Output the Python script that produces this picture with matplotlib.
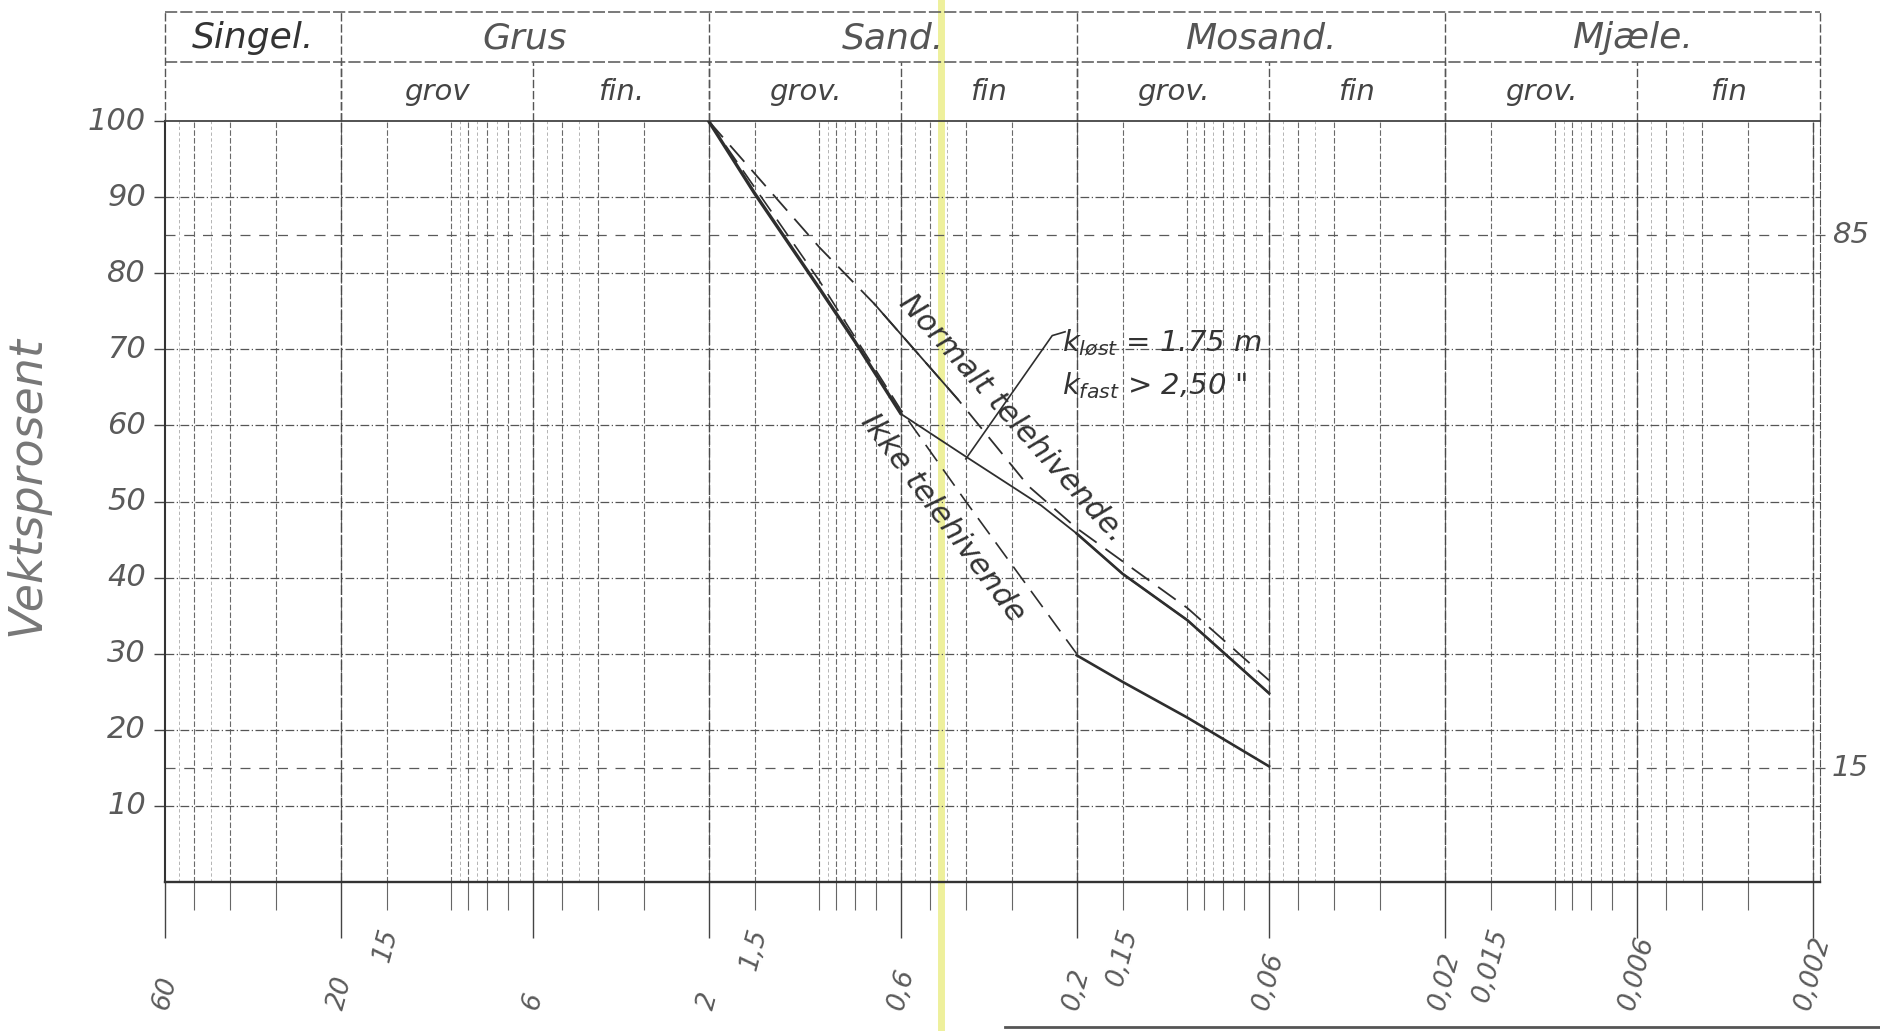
import numpy as np
import matplotlib.pyplot as plt
from matplotlib.lines import Line2D
from matplotlib.ticker import FixedLocator, NullFormatter
from matplotlib.transforms import blended_transform_factory

plt.rcParams['font.family'] = ['DejaVu Sans']
plt.rcParams['mathtext.fontset'] = 'dejavusans'

# --- values: grain size (mm) vs weight percent ---
# upper boundary, "Normalt telehivende"
normal_d = [2, 1.0, 0.71, 0.42, 0.27, 0.2, 0.1, 0.06]
normal_p = [100, 83.4, 76.0, 63.4, 52.0, 46.5, 36.0, 26.5]

# thick solid, coarse part of the lower boundary
ikke_d = [2, 1.5, 1.0, 0.8, 0.6]
ikke_p = [100, 90.5, 78.0, 71.0, 61.5]

# dashed lower boundary, "Ikke telehivende"
ikke_dash_d = [2, 1.0, 0.6, 0.4, 0.2]
ikke_dash_p = [100, 79.0, 62.0, 50.0, 30.0]

# solid tail of the lower boundary
fine_d = [0.2, 0.15, 0.1, 0.06]
fine_p = [29.8, 26.3, 21.6, 15.2]

# thin line from the knee (k-values)
k_d = [0.6, 0.4, 0.25, 0.2, 0.15, 0.1, 0.06]
k_p = [61.5, 55.9, 49.5, 45.8, 40.5, 34.4, 24.8]

leader_d = [0.4, 0.233, 0.215]
leader_p = [55.6, 71.8, 72.3]

major_d = [60, 20, 6, 2, 0.6, 0.2, 0.06, 0.02, 0.006, 0.002]
major_lbl = ['60', '20', '6', '2', '0,6', '0,2', '0,06', '0,02', '0,006', '0,002']
extra_d = [15, 1.5, 0.15, 0.015]
extra_lbl = ['15', '1,5', '0,15', '0,015']

pct_ticks = [10, 20, 30, 40, 50, 60, 70, 80, 90, 100]
pct_extra = [15, 85]

main_edges = [60, 20, 2, 0.2, 0.02]
main_names = ['Singel.', 'Grus', 'Sand.', 'Mosand.', 'Mjæle.']
sub_edges = [20, 6, 2, 0.6, 0.2, 0.06, 0.02, 0.006]
sub_names = ['grov', 'fin.', 'grov.', 'fin', 'grov.', 'fin', 'grov.', 'fin']

# log paper rulings
grid_k = [1, 1.5, 2, 3, 4, 5, 6, 7, 8, 9]
fine_k = [4.5, 5.5, 6.5, 7.5, 8.5, 9.5]
decades = [10, 1, 0.1, 0.01, 0.001]

X_MAX, X_MIN = 60, 0.00191

fig = plt.figure(figsize=(18.8, 10.31), dpi=100)
ax = fig.add_axes([165/1880, 1 - 882/1031, 1655/1880, 761/1031])
ax.set_facecolor('none')
ax.set_xscale('log')

# highlighter stroke across the scan
fig.add_artist(Line2D([941/1880, 941/1880], [0, 1], transform=fig.transFigure,
                      color='#eef09c', lw=5, zorder=-1))
fig.add_artist(Line2D([1005/1880, 1], [0.004, 0.004], transform=fig.transFigure,
                      color='#555555', lw=2))

# grid
minor_pos = []
for dec in decades:
    for k in grid_k:
        v = k * dec
        if X_MIN < v < X_MAX:
            ax.axvline(v, color='#6a6a6a', lw=0.8, dashes=(5, 2), zorder=1)
            minor_pos.append(v)
    for k in fine_k:
        v = k * dec
        if X_MIN < v < X_MAX:
            ax.axvline(v, color='#a8a8a8', lw=0.6, dashes=(4, 3), zorder=1)
for v in major_d[1:]:
    ax.axvline(v, color='#4a4a4a', lw=1.0, dashes=(7, 2), zorder=1)

for p in pct_ticks[:-1]:
    ax.axhline(p, color='#555555', lw=0.9, dashes=(7, 2, 1, 2), zorder=1)
yx = blended_transform_factory(ax.transAxes, ax.transData)
for p in pct_extra:
    ax.plot([0, 1.005], [p, p], transform=yx, color='#5a5a5a', lw=0.9,
            dashes=(8, 7), clip_on=False, zorder=1)

# curves
ink = '#2e2e2e'
ax.plot(ikke_d, ikke_p, color=ink, lw=2.4, solid_capstyle='round', zorder=3)
ax.plot(ikke_dash_d, ikke_dash_p, color=ink, lw=1.2, dashes=(12, 6), zorder=3)
ax.plot(fine_d, fine_p, color=ink, lw=1.9, zorder=3)
ax.plot(k_d, k_p, color=ink, lw=1.3, zorder=3)
ax.plot(k_d[3:], k_p[3:], color=ink, lw=1.9, zorder=3)
ax.plot(normal_d, normal_p, color=ink, lw=1.3, dashes=(12, 6), zorder=3)
ax.plot(normal_d[2:4], normal_p[2:4], color=ink, lw=1.3, zorder=3)
ax.plot(leader_d, leader_p, color=ink, lw=1.2, zorder=3)

ax.text(0.30, 60.9, 'Normalt telehivende.', rotation=-48, rotation_mode='anchor',
        ha='center', va='center', fontsize=22, style='italic', color='#333333')
ax.text(0.463, 47.8, 'Ikke telehivende', rotation=-53, rotation_mode='anchor',
        ha='center', va='center', fontsize=22, style='italic', color='#333333')
ax.text(0.219, 70.8, r'$k_{løst}$ = 1.75 m', ha='left', va='center',
        fontsize=21, style='italic', color='#333333')
ax.text(0.219, 65.2, r'$k_{fast}$ > 2,50 "', ha='left', va='center',
        fontsize=21, style='italic', color='#333333')

ax.set_xlim(X_MAX, X_MIN)
ax.set_ylim(0, 100)

# spines
ax.spines['left'].set_color('#333333')
ax.spines['left'].set_linewidth(1.5)
ax.spines['bottom'].set_color('#333333')
ax.spines['bottom'].set_linewidth(1.7)
ax.spines['top'].set_color('#444444')
ax.spines['top'].set_linewidth(1.3)
ax.spines['right'].set_color('#555555')
ax.spines['right'].set_linestyle((0, (6, 2)))

# ticks
ax.set_xticks(major_d)
ax.xaxis.set_minor_locator(FixedLocator(minor_pos))
ax.xaxis.set_major_formatter(NullFormatter())
ax.xaxis.set_minor_formatter(NullFormatter())
ax.tick_params(axis='x', which='major', length=40, width=1.0, color='#444444', direction='out')
ax.tick_params(axis='x', which='minor', length=20, width=0.8, color='#666666', direction='out')
ax.set_yticks(pct_ticks)
ax.yaxis.set_major_formatter(NullFormatter())
ax.tick_params(axis='y', length=8, width=1.0, color='#444444', direction='out')

lbl_col = '#5a5a5a'
for p in pct_ticks:
    ax.text(-0.0115, p, str(p), transform=yx, ha='right', va='center',
            fontsize=22, style='italic', color=lbl_col)
for p in pct_extra:
    ax.text(1.007, p, str(p), transform=yx, ha='left', va='center',
            fontsize=21, style='italic', color=lbl_col)

xy = blended_transform_factory(ax.transData, ax.transAxes)
for d, lbl in zip(major_d, major_lbl):
    ax.text(d, -0.172, lbl, transform=xy, rotation=75, ha='center', va='bottom',
            fontsize=19, style='italic', color=lbl_col)
for d, lbl in zip(extra_d, extra_lbl):
    ax.text(d, -0.057, lbl, transform=xy, rotation=75, ha='center', va='top',
            fontsize=19, style='italic', color=lbl_col)

fig.text(0.0144, 0.5286, 'Vektsprosent', rotation=90, ha='center', va='center',
         fontsize=33, style='italic', color='#777777')

# header table above the plot
hc = '#555555'
top_y, mid_y = 114.3, 107.8
ax.plot([X_MAX, X_MIN], [top_y, top_y], color=hc, lw=1.1, dashes=(8, 2), clip_on=False)
ax.plot([X_MAX, X_MIN], [mid_y, mid_y], color=hc, lw=1.1, dashes=(8, 2), clip_on=False)
top_bounds = main_edges + [X_MIN]
for e in top_bounds:
    ax.plot([e, e], [100, top_y], color=hc, lw=1.0, dashes=(6, 2), clip_on=False)
for e in sub_edges:
    ax.plot([e, e], [100, mid_y], color=hc, lw=1.0, dashes=(6, 2), clip_on=False)
for i, name in enumerate(main_names):
    c = np.sqrt(top_bounds[i] * top_bounds[i + 1])
    ax.text(c, 110.9, name, ha='center', va='center', fontsize=26, style='italic',
            color='#333333' if i == 0 else '#555555', clip_on=False)
sub_bounds = sub_edges + [X_MIN]
for i, name in enumerate(sub_names):
    c = np.sqrt(sub_bounds[i] * sub_bounds[i + 1])
    ax.text(c, 103.8, name, ha='center', va='center', fontsize=21, style='italic',
            color='#444444', clip_on=False)

fig.savefig('out.png', dpi=100)
